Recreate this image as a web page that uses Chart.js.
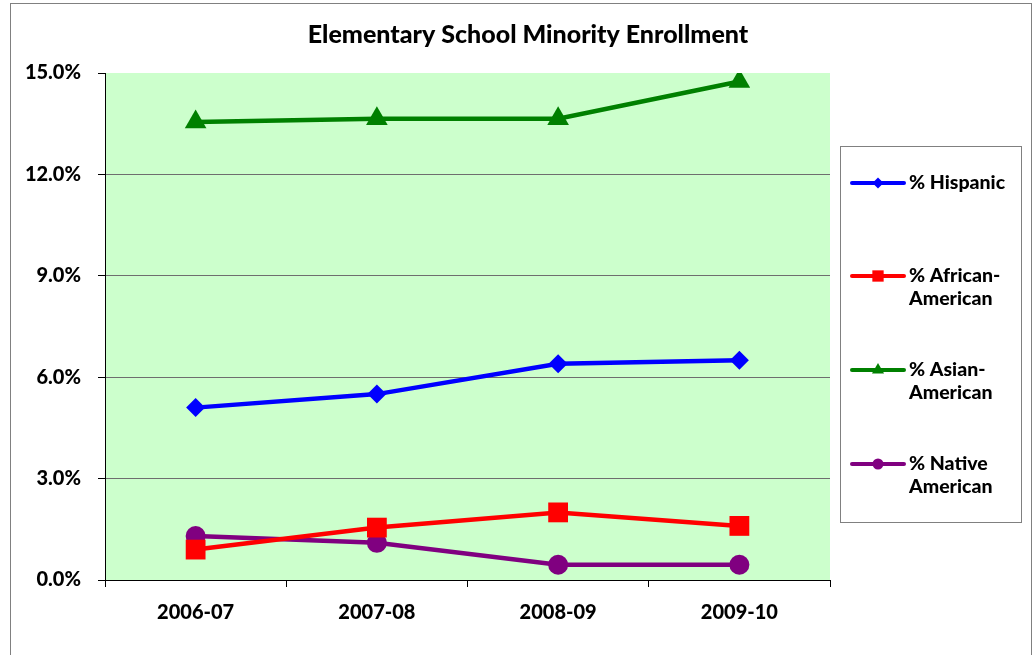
<!DOCTYPE html>
<html>
<head>
<meta charset="utf-8">
<title>Elementary School Minority Enrollment</title>
<script src="https://cdn.jsdelivr.net/npm/chart.js@4.4.1/dist/chart.umd.min.js"></script>
<style>
  body { margin: 0; background: #fff; }
  canvas { display: block; }
</style>
</head>
<body>
<canvas id="enroll-chart" width="1036" height="655"></canvas>
<script>
// data
const chartTitle = 'Elementary School Minority Enrollment';
const years = ['2006-07', '2007-08', '2008-09', '2009-10'];
const hispanic = [5.1, 5.5, 6.4, 6.5];
const african = [0.9, 1.55, 2.0, 1.6];
const asian = [13.55, 13.65, 13.65, 14.75];
const native = [1.3, 1.1, 0.45, 0.45];
const yTicks = [0, 3, 6, 9, 12, 15];

const FONT = 'Lato, "DejaVu Sans", sans-serif';

const seriesList = [
  { label: '% Hispanic', lines: ['% Hispanic'], data: hispanic, color: '#0000FF', style: 'rectRot', r: 9.5, lr: 5.5 },
  { label: '% African-American', lines: ['% African-', 'American'], data: african, color: '#FF0000', style: 'rect', r: 14, lr: 8 },
  { label: '% Asian-American', lines: ['% Asian-', 'American'], data: asian, color: '#008000', style: 'triangle', r: 12.5, lr: 7 },
  { label: '% Native American', lines: ['% Native', 'American'], data: native, color: '#800080', style: 'circle', r: 10, lr: 5.5 }
];

// frame, plot background, title and the boxed legend
const decorPlugin = {
  id: 'decor',
  beforeDraw(chart) {
    const ctx = chart.ctx;
    const a = chart.chartArea;
    ctx.save();
    ctx.strokeStyle = '#808080';
    ctx.lineWidth = 1;
    ctx.strokeRect(10.5, 3.5, 1021, 700);
    ctx.fillStyle = '#CCFFCC';
    ctx.fillRect(a.left, a.top, a.right - a.left, a.bottom - a.top);
    ctx.restore();
  },
  afterDraw(chart) {
    const ctx = chart.ctx;
    ctx.save();
    ctx.fillStyle = '#000';
    ctx.textAlign = 'center';
    ctx.textBaseline = 'middle';
    ctx.font = '900 25px ' + FONT;
    ctx.fillText(chartTitle, 528, 35);

    // legend
    ctx.strokeStyle = '#808080';
    ctx.lineWidth = 1;
    ctx.strokeRect(840.5, 146.5, 181, 376);
    const itemY = [183, 276, 370, 464];
    chart.data.datasets.forEach((ds, i) => {
      const s = seriesList[i];
      const y = itemY[i];
      ctx.strokeStyle = s.color;
      ctx.lineWidth = 4;
      ctx.lineCap = 'round';
      ctx.beginPath();
      ctx.moveTo(852, y);
      ctx.lineTo(904, y);
      ctx.stroke();
      ctx.fillStyle = s.color;
      Chart.helpers.drawPoint(ctx, { pointStyle: s.style, radius: s.lr, borderWidth: 0, rotation: 0 }, 878, y);
      ctx.fillStyle = '#000';
      ctx.textAlign = 'left';
      ctx.font = '900 19.5px ' + FONT;
      s.lines.forEach((t, j) => ctx.fillText(t, 909, y + j * 22.5));
    });
    ctx.restore();
  }
};

const ctx = document.getElementById('enroll-chart').getContext('2d');
const enrollChart = new Chart(ctx, {
  type: 'line',
  data: {
    labels: years,
    datasets: seriesList.map(s => ({
      label: s.label,
      data: s.data,
      borderColor: s.color,
      backgroundColor: s.color,
      borderWidth: 4.5,
      pointStyle: s.style,
      pointRadius: s.r,
      pointBackgroundColor: s.color,
      pointBorderColor: s.color,
      pointBorderWidth: 0,
      tension: 0,
      fill: false
    }))
  },
  options: {
    responsive: false,
    animation: false,
    layout: { padding: { top: 73, right: 206, left: 0, bottom: 0 } },
    plugins: {
      legend: { display: false },
      title: { display: false },
      tooltip: { enabled: false }
    },
    scales: {
      x: {
        offset: true,
        afterFit: scale => { scale.height = 75; },
        grid: { drawOnChartArea: false, drawTicks: true, tickLength: 7, tickColor: '#000', offset: true },
        border: { display: true, color: '#000', width: 1 },
        ticks: { color: '#000', font: { family: FONT, size: 20, weight: '900' }, padding: 14 }
      },
      y: {
        min: 0,
        max: 15,
        afterFit: scale => { scale.width = 105; },
        afterBuildTicks: scale => { scale.ticks = yTicks.map(v => ({ value: v })); },
        grid: {
          color: c => (c.tick && c.tick.value === 15) ? 'rgba(0,0,0,0)' : '#6E6E6E',
          tickColor: '#000',
          tickLength: 7,
          lineWidth: 1
        },
        border: { display: true, color: '#000', width: 1 },
        ticks: {
          color: '#000',
          padding: 17,
          font: { family: FONT, size: 20, weight: '900' },
          callback: v => v.toFixed(1) + '%'
        }
      }
    }
  },
  plugins: [decorPlugin]
});
</script>
</body>
</html>
